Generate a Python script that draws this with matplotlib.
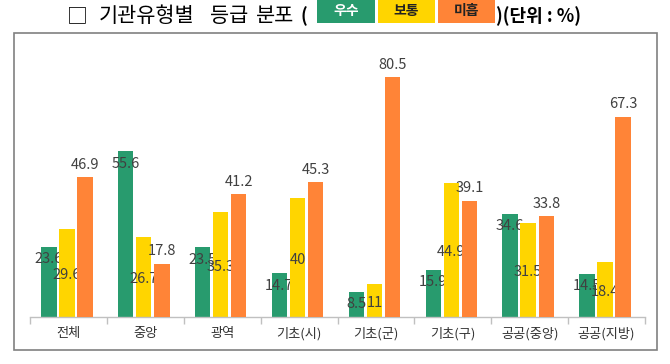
import matplotlib
matplotlib.use("Agg")
import matplotlib.pyplot as plt
from matplotlib.patches import Rectangle
import numpy as np

plt.rcParams['font.family'] = ['Noto Sans CJK KR', 'DejaVu Sans']

categories = ['전체', '중앙', '광역', '기초(시)', '기초(군)', '기초(구)', '공공(중앙)', '공공(지방)']
good = [23.6, 55.6, 23.5, 14.7, 8.5, 15.9, 34.6, 14.5]      # 우수
normal = [29.6, 26.7, 35.3, 40, 11, 44.9, 31.5, 18.4]      # 보통
poor = [46.9, 17.8, 41.2, 45.3, 80.5, 39.1, 33.8, 67.3]    # 미흡
series_names = ['우수', '보통', '미흡']
series_colors = ['#289b6e', '#ffd500', '#ff8437']
legend_text_colors = ['white', '#222222', '#222222']
title_words = ['□', '기관유형별', '등급', '분포']

fig = plt.figure(figsize=(6.7, 3.64), dpi=100)
fig.patch.set_facecolor('white')

# outer frame
fig.add_artist(Rectangle((14 / 670, 1 - 350 / 364), 643 / 670, 317 / 364,
                         transform=fig.transFigure, fill=False,
                         edgecolor='#808080', linewidth=1.2))

ax = fig.add_axes([30 / 670, 1 - 317 / 364, 615 / 670, 268 / 364])
x = np.arange(len(categories))
w = 0.2
step = 0.235
shift = -0.02
lab_color = '#404040'

for k, (vals, col) in enumerate(zip([good, normal, poor], series_colors)):
    xs = x + shift + (k - 1) * step
    ax.bar(xs, vals, width=w, color=col, zorder=1 + k)
    for xi, v in zip(xs, vals):
        txt = f'{v:g}'
        if k == 0:
            ax.annotate(txt, (xi, v), xytext=(0, -9), textcoords='offset points',
                        ha='center', va='center', fontsize=10.5, color=lab_color,
                        zorder=1.5 + k)
        elif k == 1:
            ax.annotate(txt, (xi, v / 2), xytext=(0, -1.5), textcoords='offset points',
                        ha='center', va='center', fontsize=10.5, color=lab_color,
                        zorder=1.5 + k)
        else:
            ax.annotate(txt, (xi, v), xytext=(0, 9), textcoords='offset points',
                        ha='center', va='center', fontsize=10.5, color=lab_color,
                        zorder=1.5 + k)

ax.set_xlim(-0.5, len(categories) - 0.5)
ax.set_ylim(0, 90)
ax.set_yticks([])
for s in ['top', 'right', 'left']:
    ax.spines[s].set_visible(False)
ax.spines['bottom'].set_color('#c0c0c0')
ax.spines['bottom'].set_linewidth(1)
ax.set_xticks(x, categories)
ax.set_xticks(np.arange(len(categories) + 1) - 0.5, minor=True)
ax.tick_params(axis='x', which='major', length=0, pad=7, labelsize=9.5, labelcolor='#333333')
ax.tick_params(axis='x', which='minor', length=5, color='#c0c0c0', width=1)
ax.set_facecolor('none')

# title with inline legend
ty = 1 - 16 / 364
word_x = [67, 99, 210, 256]
for wx, word in zip(word_x, title_words):
    fig.text(wx / 670, ty, word, fontsize=15, ha='left', va='center',
             color='black', weight='light')
fig.text(300 / 670, ty, '(', fontsize=13, ha='left', va='center', weight='bold', color='black')
box_x = [317, 378, 438]
box_w = [58, 57, 57]
for bx, bw, name, col, tc in zip(box_x, box_w, series_names, series_colors, legend_text_colors):
    fig.add_artist(Rectangle((bx / 670, 1 - 23 / 364), bw / 670, 23 / 364,
                             transform=fig.transFigure, color=col, linewidth=0))
    fig.text((bx + bw / 2) / 670, 1 - 11 / 364, name, fontsize=10, ha='center', va='center',
             weight='bold', color=tc)
fig.text(496 / 670, ty, ')(단위 : %)', fontsize=13, ha='left', va='center', weight='bold', color='black')

fig.savefig('out.png', dpi=100)
